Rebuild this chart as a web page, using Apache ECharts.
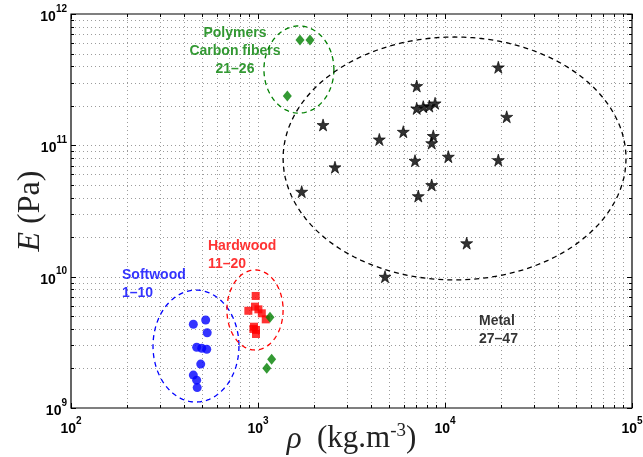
<!DOCTYPE html>
<html>
<head>
<meta charset="utf-8">
<script src="https://cdn.jsdelivr.net/npm/echarts@6/dist/echarts.min.js"></script>
<style>
html,body{margin:0;padding:0;background:#fff;}
#chart{width:643px;height:457px;}
</style>
</head>
<body>
<div id="chart"></div>
<script>
// ---------- data (density kg/m^3, Young's modulus Pa) ----------
const softwood = [
  [451, 4.34e9], [525, 4.68e9], [535, 3.74e9], [470, 2.90e9], [532, 2.80e9],
  [500, 2.85e9], [494, 2.16e9], [451, 1.78e9], [470, 1.63e9], [473, 1.43e9]
];
const hardwood = [
  [972, 7.13e9], [964, 5.91e9], [888, 5.50e9], [1005, 5.64e9], [1048, 5.26e9],
  [1100, 4.73e9], [952, 4.16e9], [976, 3.93e9], [976, 3.66e9], [945, 4.00e9]
];
const polymers = [
  [1677, 6.34e11], [1897, 6.34e11], [1435, 2.38e11],
  [1159, 4.91e9], [1183, 2.35e9], [1114, 2.01e9]
];
const metals = [
  [19280, 3.93e11], [7060, 2.83e11], [7060, 1.91e11], [7650, 1.97e11], [8240, 1.99e11],
  [8850, 2.09e11], [21380, 1.65e11], [2228, 1.43e11], [5984, 1.27e11], [4454, 1.11e11],
  [8654, 1.18e11], [8490, 1.04e11], [10420, 8.2e10], [6912, 7.64e10], [19280, 7.73e10],
  [2580, 6.81e10], [8490, 4.99e10], [7197, 4.11e10], [1713, 4.44e10], [13060, 1.80e10],
  [4777, 1.00e10]
];
// group ellipses: [xMin, xMax, yMin, yMax] in data units
const ellipseSoftwood = [274.5, 791, 1.11e9, 7.9e9];
const ellipseHardwood = [682, 1362, 2.765e9, 1.125e10];
const ellipsePolymers = [1076, 2546, 1.76e11, 8.11e11];
const ellipseMetals = [1362, 92900, 9.44e9, 6.68e11];
// group labels
const labelSoftwood = 'Softwood\n1–10';
const labelHardwood = 'Hardwood\n11–20';
const labelPolymers = 'Polymers\nCarbon fibers\n21–26';
const labelMetals = 'Metal\n27–47';
// axes
const xDecades = [100, 1000, 10000, 100000];
const yDecades = [1e9, 1e10, 1e11, 1e12];
const minorMultipliers = [2, 3, 4, 5, 6, 7, 8, 9];

// ---------- build ----------
const X_MIN = xDecades[0], X_MAX = xDecades[xDecades.length - 1];
const Y_MIN = yDecades[0], Y_MAX = yDecades[yDecades.length - 1];

function gridValues(decades) {
  const out = [];
  for (let i = 0; i < decades.length; i++) {
    out.push([decades[i], 1]);
    if (i < decades.length - 1) minorMultipliers.forEach(m => out.push([decades[i] * m, 0]));
  }
  return out;
}
const gridXVals = gridValues(xDecades).map(d => [d[0], Y_MIN, d[1]]);
const gridYVals = gridValues(yDecades).map(d => [X_MIN, d[0], d[1]]);

const GRID_COLOR = '#9c9c9c';
function crisp(v) { return Math.round(v) + 0.5; }

const chart = echarts.init(document.getElementById('chart'), null, {renderer: 'canvas'});

const tickRich = {
  a: {fontFamily: 'Liberation Sans', fontWeight: 'bold', fontSize: 14, color: '#000', verticalAlign: 'bottom'},
  b: {fontFamily: 'Liberation Sans', fontWeight: 'bold', fontSize: 10, color: '#000', verticalAlign: 'top', padding: [0, 0, 10, 0]}
};
function powLabel(v) {
  const e = Math.round(Math.log10(v));
  return '{a|10}{b|' + e + '}';
}

function ellipseSeries(box, color) {
  return {
    type: 'custom',
    coordinateSystem: 'cartesian2d',
    silent: true,
    z: 3,
    data: [box],
    encode: {x: [0, 1], y: [2, 3]},
    renderItem: function (params, api) {
      const p1 = api.coord([api.value(0), api.value(2)]);
      const p2 = api.coord([api.value(1), api.value(3)]);
      const cx = (p1[0] + p2[0]) / 2, cy = (p1[1] + p2[1]) / 2;
      const rx = Math.abs(p2[0] - p1[0]) / 2, ry = Math.abs(p2[1] - p1[1]) / 2;
      const pts = [];
      const N = 120;
      for (let i = 0; i <= N; i++) {
        const t = i / N * Math.PI * 2;
        pts.push([cx + rx * Math.cos(t), cy + ry * Math.sin(t)]);
      }
      return {
        type: 'polyline',
        shape: {points: pts},
        style: {stroke: color, lineWidth: 1.3, lineDash: [5, 4], fill: null}
      };
    }
  };
}

function labelSeries(text, anchor, color, align) {
  return {
    type: 'scatter',
    symbolSize: 0,
    silent: true,
    z: 6,
    data: [{value: anchor}],
    label: {
      show: true,
      position: [0, 0],
      align: align,
      verticalAlign: 'top',
      formatter: text,
      fontFamily: 'Liberation Sans',
      fontWeight: 'bold',
      fontSize: 14,
      lineHeight: 18,
      color: color
    }
  };
}

const starPath = 'path://M50,0 L61,35 L98,35 L68,57 L79,91 L50,70 L21,91 L32,57 L2,35 L39,35 Z';

const option = {
  animation: false,
  backgroundColor: '#fff',
  grid: {left: 71, top: 14, width: 561, height: 394, outerBoundsMode: 'none', containLabel: false,
         show: true, borderColor: '#000', borderWidth: 1.2, backgroundColor: 'transparent'},
  xAxis: {
    type: 'log', logBase: 10, min: X_MIN, max: X_MAX, splitNumber: 3,
    axisLine: {show: false},
    axisTick: {show: false},
    splitLine: {show: false},
    axisLabel: {formatter: powLabel, rich: tickRich, margin: 8, hideOverlap: false},
    name: '{i|ρ}  (kg.m{s|-3})',
    nameLocation: 'middle',
    nameMoveOverlap: false,
    nameGap: 14,
    nameTextStyle: {
      fontFamily: 'Liberation Serif', fontSize: 31, color: '#222',
      rich: {
        i: {fontFamily: 'Liberation Serif', fontStyle: 'italic', fontSize: 31, color: '#222', verticalAlign: 'bottom'},
        s: {fontFamily: 'Liberation Serif', fontSize: 19, color: '#222', verticalAlign: 'top', padding: [0, 0, 14, 0]}
      }
    }
  },
  yAxis: {
    type: 'log', logBase: 10, min: Y_MIN, max: Y_MAX, splitNumber: 3,
    axisLine: {show: false},
    axisTick: {show: false},
    splitLine: {show: false},
    axisLabel: {formatter: powLabel, rich: tickRich, margin: 4, hideOverlap: false},
    name: '{i|E} (Pa)',
    nameLocation: 'middle',
    nameMoveOverlap: false,
    nameGap: 24,
    nameRotate: 90,
    nameTextStyle: {
      fontFamily: 'Liberation Serif', fontSize: 32, color: '#222',
      rich: {i: {fontFamily: 'Liberation Serif', fontStyle: 'italic', fontSize: 32, color: '#222'}}
    }
  },
  series: [
    {
      type: 'custom', coordinateSystem: 'cartesian2d', silent: true, z: 1,
      data: gridXVals, encode: {x: 0, y: 1},
      renderItem: function (params, api) {
        const cs = params.coordSys;
        const x = crisp(api.coord([api.value(0), api.value(1)])[0]);
        const major = api.value(2) === 1;
        const top = cs.y, bottom = cs.y + cs.height;
        const t = major ? 5 : 3;
        const children = [];
        if (x > cs.x + 1 && x < cs.x + cs.width - 1) {
          children.push({type: 'line', shape: {x1: x, y1: top, x2: x, y2: bottom}, style: {stroke: GRID_COLOR, lineWidth: 1, lineDash: [1, 3]}});
        }
        children.push({type: 'line', shape: {x1: x, y1: bottom, x2: x, y2: bottom - t}, style: {stroke: '#000', lineWidth: 1}});
        children.push({type: 'line', shape: {x1: x, y1: top, x2: x, y2: top + t}, style: {stroke: '#000', lineWidth: 1}});
        return {type: 'group', children: children};
      }
    },
    {
      type: 'custom', coordinateSystem: 'cartesian2d', silent: true, z: 1,
      data: gridYVals, encode: {x: 0, y: 1},
      renderItem: function (params, api) {
        const cs = params.coordSys;
        const y = crisp(api.coord([api.value(0), api.value(1)])[1]);
        const major = api.value(2) === 1;
        const left = cs.x, right = cs.x + cs.width;
        const t = major ? 5 : 3;
        const children = [];
        if (y > cs.y + 1 && y < cs.y + cs.height - 1) {
          children.push({type: 'line', shape: {x1: left, y1: y, x2: right, y2: y}, style: {stroke: GRID_COLOR, lineWidth: 1, lineDash: [1, 3]}});
        }
        children.push({type: 'line', shape: {x1: left, y1: y, x2: left + t, y2: y}, style: {stroke: '#000', lineWidth: 1}});
        children.push({type: 'line', shape: {x1: right, y1: y, x2: right - t, y2: y}, style: {stroke: '#000', lineWidth: 1}});
        return {type: 'group', children: children};
      }
    },
    ellipseSeries(ellipseSoftwood, '#0000ff'),
    ellipseSeries(ellipseHardwood, '#ff0000'),
    ellipseSeries(ellipsePolymers, '#008000'),
    ellipseSeries(ellipseMetals, '#000000'),
    {name: 'Softwood', type: 'scatter', z: 5, data: softwood, symbol: 'circle', symbolSize: 9, itemStyle: {color: '#0000ff'}},
    {name: 'Hardwood', type: 'scatter', z: 5, data: hardwood, symbol: 'rect', symbolSize: 8, itemStyle: {color: '#ff0000'}},
    {name: 'Polymers', type: 'scatter', z: 5, data: polymers, symbol: 'diamond', symbolSize: [9, 11], itemStyle: {color: '#008000'}},
    {name: 'Metal', type: 'scatter', z: 5, data: metals, symbol: starPath, symbolSize: 12, itemStyle: {color: '#000000', borderColor: '#000', borderWidth: 0.8}},
    labelSeries(labelSoftwood, [187.4, 1.205e10], '#0000ff', 'left'),
    labelSeries(labelHardwood, [540, 2.0e10], '#ff0000', 'left'),
    labelSeries(labelPolymers, [753, 8.4e11], '#008000', 'center'),
    labelSeries(labelMetals, [15200, 5.38e9], '#000000', 'left')
  ]
};
chart.setOption(option);
</script>
</body>
</html>
